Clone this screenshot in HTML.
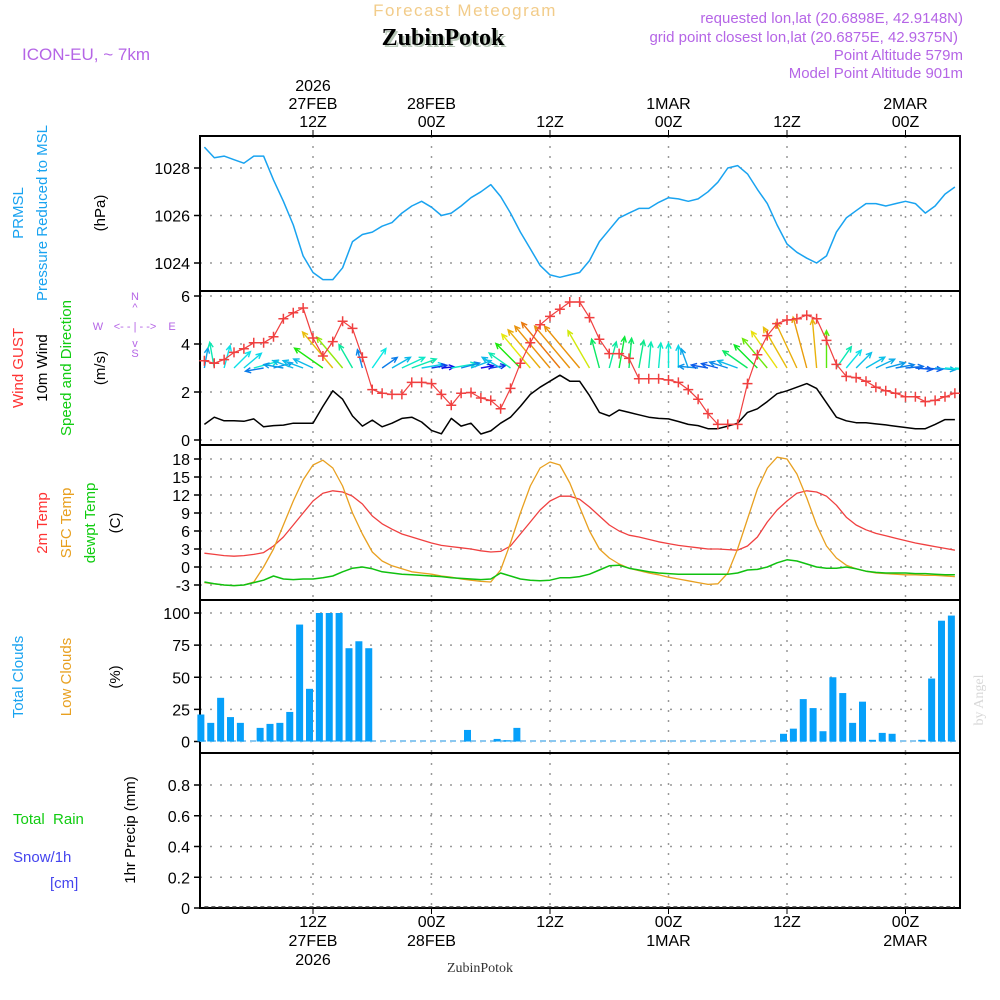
<!DOCTYPE html>
<html><head><meta charset="utf-8"><style>
html,body{margin:0;padding:0;background:#fff}
svg{display:block;font-family:"Liberation Sans",sans-serif}
</style></head><body>
<svg id="chart" width="1000" height="1000" viewBox="0 0 1000 1000">
<defs><clipPath id="windclip"><rect x="201" y="292" width="758" height="152"/></clipPath></defs>
<text x="465" y="16" font-size="17" fill="#f2cc8a" text-anchor="middle" letter-spacing="1.5">Forecast Meteogram</text>
<text x="445" y="47" font-size="24" font-weight="bold" font-family="Liberation Serif,serif" fill="#b8c8b8" text-anchor="middle">ZubinPotok</text>
<text x="443" y="45" font-size="24" font-weight="bold" font-family="Liberation Serif,serif" fill="#000" text-anchor="middle">ZubinPotok</text>
<g fill="#b565e6" font-size="15" text-anchor="end">
<text x="963" y="23">requested lon,lat (20.6898E, 42.9148N)</text>
<text x="958" y="42">grid point closest lon,lat (20.6875E, 42.9375N)</text>
<text x="963" y="60">Point Altitude 579m</text>
<text x="963" y="78">Model Point Altitude 901m</text>
</g>
<text x="22" y="60" font-size="17" fill="#b565e6">ICON-EU, ~ 7km</text>
<g id="axes"></g>
<g font-size="15">
<text transform="translate(23,213) rotate(-90)" text-anchor="middle" fill="#19a3f0">PRMSL</text>
<text transform="translate(47,213) rotate(-90)" text-anchor="middle" fill="#19a3f0">Pressure Reduced to MSL</text>
<text transform="translate(105,213) rotate(-90)" text-anchor="middle" fill="#000">(hPa)</text>
<text transform="translate(23,368) rotate(-90)" text-anchor="middle" fill="#f33">Wind GUST</text>
<text transform="translate(47,368) rotate(-90)" text-anchor="middle" fill="#000">10m Wind</text>
<text transform="translate(71,368) rotate(-90)" text-anchor="middle" fill="#1c1">Speed and Direction</text>
<text transform="translate(105,368) rotate(-90)" text-anchor="middle" fill="#000">(m/s)</text>
<g fill="#b565e6" font-size="11" text-anchor="middle">
<text x="135" y="300">N</text><text x="135" y="311">^</text><text x="135" y="330">&lt;- - | - -&gt;</text><text x="98" y="330">W</text><text x="172" y="330">E</text><text x="135" y="347">v</text><text x="135" y="357">S</text>
</g>
<text transform="translate(47,523) rotate(-90)" text-anchor="middle" fill="#f33">2m Temp</text>
<text transform="translate(71,523) rotate(-90)" text-anchor="middle" fill="#e8a020">SFC Temp</text>
<text transform="translate(95,523) rotate(-90)" text-anchor="middle" fill="#1c1">dewpt Temp</text>
<text transform="translate(120,523) rotate(-90)" text-anchor="middle" fill="#000">(C)</text>
<text transform="translate(23,677) rotate(-90)" text-anchor="middle" fill="#19a3f0">Total Clouds</text>
<text transform="translate(71,677) rotate(-90)" text-anchor="middle" fill="#e8a020">Low Clouds</text>
<text transform="translate(120,677) rotate(-90)" text-anchor="middle" fill="#000">(%)</text>
<text x="13" y="824" fill="#1c1" xml:space="preserve">Total  Rain</text>
<text x="13" y="862" fill="#4444ee">Snow/1h</text>
<text x="50" y="888" fill="#4444ee">[cm]</text>
<text transform="translate(135,830) rotate(-90)" text-anchor="middle" fill="#000">1hr Precip (mm)</text>
</g>
<text transform="translate(983,700) rotate(-90)" font-family="Liberation Serif,serif" font-size="14" fill="#d8d8d8" text-anchor="middle">by Angel</text>
<text x="480" y="972" font-family="Liberation Serif,serif" font-size="14" fill="#333" text-anchor="middle">ZubinPotok</text>
<g id="marks"></g>
</svg>
<script>
const hours = Array.from({length:77},(_,i)=>i+1);
const pressure = [1028.88,1028.43,1028.5,1028.35,1028.2,1028.5,1028.5,1027.5,1026.6,1025.6,
1024.3,1023.6,1023.3,1023.3,1023.8,1024.9,1025.2,1025.3,1025.55,1025.7,
1026.1,1026.4,1026.6,1026.35,1026.0,1026.1,1026.4,1026.75,1027.0,1027.3,
1026.8,1026.1,1025.3,1024.6,1023.9,1023.5,1023.4,1023.5,1023.6,1024.1,
1024.9,1025.4,1025.9,1026.1,1026.3,1026.3,1026.55,1026.75,1026.7,1026.6,
1026.7,1027.0,1027.4,1028.0,1028.1,1027.75,1027.1,1026.5,1025.6,1024.8,
1024.45,1024.2,1024.0,1024.3,1025.3,1025.9,1026.2,1026.5,1026.5,1026.4,
1026.5,1026.6,1026.5,1026.1,1026.4,1026.9,1027.2];
const gust = [3.3,3.2,3.35,3.65,3.8,4.05,4.05,4.3,5.05,5.3,
5.5,4.25,3.5,4.1,4.95,4.65,3.45,2.1,1.95,1.9,
1.9,2.4,2.4,2.35,1.9,1.45,1.95,1.98,1.75,1.65,
1.3,2.15,3.2,4.05,4.8,5.15,5.45,5.75,5.75,5.1,
4.2,3.6,3.6,3.4,2.55,2.55,2.55,2.5,2.4,2.1,
1.7,1.1,0.65,0.65,0.65,2.35,3.55,4.35,4.85,5.0,
5.05,5.2,5.05,4.15,3.15,2.65,2.6,2.45,2.2,2.05,
1.95,1.8,1.8,1.6,1.65,1.8,1.95];
const wind = [0.65,0.95,0.8,0.8,0.78,0.88,0.55,0.6,0.62,0.7,
0.7,0.7,1.4,2.05,1.7,1.0,0.58,0.83,0.55,0.7,
0.9,0.95,0.75,0.4,0.26,0.9,0.58,0.7,0.25,0.38,
0.7,0.95,1.4,1.9,2.2,2.45,2.7,2.45,2.45,1.85,
1.15,1.0,1.25,1.15,1.05,0.95,0.9,0.88,0.77,0.65,
0.6,0.47,0.47,0.58,0.7,1.15,1.3,1.6,1.93,2.05,
2.2,2.35,2.15,1.55,0.95,0.8,0.72,0.72,0.67,0.63,
0.57,0.52,0.47,0.47,0.65,0.85,0.85];
const windDir = [10,350,15,45,50,75,260,75,280,290,
290,295,305,320,320,330,345,35,55,60,
65,70,80,80,85,80,75,70,80,80,
300,305,315,320,320,320,320,320,320,330,
345,15,10,5,10,5,5,0,0,340,
275,280,285,288,290,305,315,320,325,330,
335,345,355,0,35,40,45,60,65,75,
80,85,95,95,95,95,95];
const temp2m = [2.3,2.1,1.9,1.8,1.9,2.1,2.4,3.5,5.0,7.0,
9.0,11.0,12.3,12.7,12.5,11.8,10.5,8.5,7.2,6.3,
5.5,5.0,4.5,4.0,3.6,3.4,3.2,3.0,2.7,2.5,
2.6,3.5,5.5,7.5,9.5,11.0,11.8,11.8,11.3,10.0,
8.5,7.0,6.0,5.3,5.0,4.6,4.2,3.9,3.6,3.4,
3.2,3.0,3.0,2.9,2.8,3.5,5.0,7.5,9.5,11.0,
12.3,12.7,12.5,11.8,10.3,8.3,7.0,6.2,5.6,5.2,
4.8,4.4,4.0,3.7,3.4,3.1,2.8];
const tempSfc = [-2.6,-2.8,-3.0,-3.1,-3.0,-2.5,0.0,3.0,7.0,11.0,
14.5,17.0,17.8,16.5,13.5,9.0,5.5,2.5,1.0,0.2,
-0.3,-0.8,-1.0,-1.2,-1.5,-1.7,-2.0,-2.2,-2.4,-2.5,
-0.5,4.0,9.0,13.5,16.5,17.5,17.0,14.0,10.0,6.0,
3.0,1.5,0.5,-0.2,-0.6,-1.0,-1.3,-1.7,-2.0,-2.3,
-2.6,-2.9,-2.8,-1.0,3.0,8.0,13.0,16.5,18.3,18.0,
15.5,11.5,7.0,3.5,1.5,0.3,-0.3,-0.7,-1.0,-1.1,
-1.2,-1.3,-1.3,-1.4,-1.4,-1.5,-1.6];
const dewpt = [-2.5,-2.8,-3.0,-3.1,-3.0,-2.6,-2.2,-1.5,-2.0,-2.1,
-2.0,-2.0,-1.8,-1.5,-0.8,-0.2,0.0,-0.3,-0.8,-1.0,
-1.2,-1.3,-1.4,-1.5,-1.6,-1.8,-1.9,-2.0,-2.1,-2.0,
-1.0,-1.5,-2.0,-2.2,-2.3,-2.2,-1.8,-1.8,-1.6,-1.2,
-0.5,0.2,0.3,-0.2,-0.5,-0.8,-1.0,-1.1,-1.2,-1.2,
-1.2,-1.2,-1.2,-1.2,-1.0,-0.5,-0.4,0.0,0.7,1.2,
1.0,0.5,0.0,-0.2,-0.2,0.0,-0.3,-0.7,-0.9,-1.0,
-1.0,-1.0,-1.1,-1.1,-1.2,-1.3,-1.3];
const clouds = [21,14.5,34,19,14.5,0,10.6,13.7,14.5,23,
91,41,100,100,100,72.6,78,72.6,0,0,
0,0,0,0,0,0,0,9,0,0,
2,1,10.6,0,0,0,0,0,0,0,
0,0,0,0,0,0,0,0,0,0,
0,0,0,0,0,0,0,0,0,6,
10,33,26,8,50,37.7,14.5,31,1.3,6.7,
6,0,0,1.3,49,94,98];
const precip = new Array(77).fill(0);
const pressTicks = [1024,1026,1028];
const windTicks = [0,2,4,6];
const tempTicks = [-3,0,3,6,9,12,15,18];
const cloudTicks = [0,25,50,75,100];
const precipTicks = [0,0.2,0.4,0.6,0.8];
const timeTickHours = [12,24,36,48,60,72];
const timeTopLabels = [["2026","27FEB","12Z"],["","28FEB","00Z"],["","","12Z"],["","1MAR","00Z"],["","","12Z"],["","2MAR","00Z"]];
const timeBotLabels = [["12Z","27FEB","2026"],["00Z","28FEB",""],["12Z","",""],["00Z","1MAR",""],["12Z","",""],["00Z","2MAR",""]];

const NS="http://www.w3.org/2000/svg";
const L=200,R=960;
const x=h=>194.5+h*9.875;
const lin=(v0,p0,v1,p1)=>v=>p0+(v-v0)*(p1-p0)/(v1-v0);
const yP=lin(1024,263,1028,168), yW=lin(0,440,6,296), yT=lin(0,567,18,459), yC=lin(0,741.5,100,613), yR=lin(0,908,0.8,785);
const panels=[[136,291,pressTicks,yP,v=>String(v)],[291,445,windTicks,yW,v=>String(v)],[445,600,tempTicks,yT,v=>String(v)],[600,753,cloudTicks,yC,v=>String(v)],[753,908,precipTicks,yR,v=>v===0?"0":v.toFixed(1)]];
const axes=document.getElementById('axes'), marks=document.getElementById('marks');
function mk(tag,attrs,parent,text){const e=document.createElementNS(NS,tag);for(const k in attrs)e.setAttribute(k,attrs[k]);if(text!==undefined)e.textContent=text;parent.appendChild(e);return e;}
panels.forEach((p,i)=>{
  const g=mk('g',{},axes);
  
  
  timeTickHours.forEach(h=>{mk('line',{x1:x(h),x2:x(h),y1:p[0],y2:p[1],stroke:'#999','stroke-width':1.5,'stroke-dasharray':'2,8'},g);});
  p[2].forEach(v=>{const y=p[3](v);
    mk('line',{x1:L,x2:R,y1:y,y2:y,stroke:'#999','stroke-width':1.5,'stroke-dasharray':'2,8'},g);
    mk('line',{x1:L-6,x2:L,y1:y,y2:y,stroke:'#000','stroke-width':1.5},g);
    const t=mk('text',{x:L-10,y:y+6,'font-size':16,'text-anchor':'end',fill:'#000'},g,p[4](v));
    
    
  });
  mk('rect',{x:L,y:p[0],width:R-L,height:p[1]-p[0],fill:'none',stroke:'#000','stroke-width':2},g);
});
const tg=mk('g',{'font-size':16,'text-anchor':'middle',fill:'#000'},axes);


timeTickHours.forEach((h,i)=>{
  const X=x(h);
  mk('line',{x1:X,x2:X,y1:130,y2:136,stroke:'#000'},tg);
  mk('line',{x1:X,x2:X,y1:908,y2:914,stroke:'#000'},tg);
  timeTopLabels[i].forEach((s,j)=>{if(s)mk('text',{x:X,y:91+j*18},tg,s);});
  timeBotLabels[i].forEach((s,j)=>{if(s)mk('text',{x:X,y:927+j*19},tg,s);});
});
function path(vals,yf,color,w,name){
  const d=vals.map((v,i)=>(i?'L':'M')+x(hours[i]).toFixed(1)+','+yf(v).toFixed(1)).join('');
  const p=mk('path',{d:d,fill:'none',stroke:color,'stroke-width':w,'stroke-linejoin':'round'},marks);
  
  
  return p;
}
path(pressure,yP,'#19a3f0',1.5,'pressure-line');
const cg=mk('g',{},marks);


mk('line',{x1:L,x2:R,y1:741,y2:741,stroke:'#8cc8f0','stroke-width':2,'stroke-dasharray':'6,4'},cg);
clouds.forEach((v,i)=>{if(v<=0)return;const X=x(hours[i])-3.5;const b=mk('rect',{x:X-3.5,y:yC(v),width:7,height:yC(0)-yC(v),fill:'#06a0fa'},cg);
  
  });
const pl=mk('path',{d:precip.map((v,i)=>(i?'L':'M')+x(hours[i])+','+(yR(v)-1)).join(''),fill:'none',stroke:'#333','stroke-width':1.5,'stroke-dasharray':'4,3'},marks);


path(temp2m,yT,'#f04040',1.3,'temp-2m-line');
path(tempSfc,yT,'#e8a020',1.3,'temp-sfc-line');
path(dewpt,yT,'#10c010',1.5,'dewpoint-line');
path(wind,yW,'#000',1.5,'wind-speed-line');
const ag=mk('g',{'clip-path':'url(#windclip)'},marks);


windDir.forEach((d,i)=>{
  const s=wind[i];const len=8+19*s;const r=d*Math.PI/180;
  const x0=x(hours[i]),y0=368,x1=x0+len*Math.sin(r),y1=y0-len*Math.cos(r);
  let hue=s<=2?270-110*s:50-(s-2)*30;const col='hsl('+hue+',90%,48%)';
  const a1=r+Math.PI-0.45,a2=r+Math.PI+0.45,hl=6;
  const p=mk('path',{d:`M${x0},${y0}L${x1},${y1}M${x1+hl*Math.sin(a1)},${y1-hl*Math.cos(a1)}L${x1},${y1}L${x1+hl*Math.sin(a2)},${y1-hl*Math.cos(a2)}`,fill:'none',stroke:col,'stroke-width':1.4},ag);
  
  
});
path(gust,yW,'#f04040',1.2,'wind-gust-line');
const gg=mk('g',{},marks);


gust.forEach((v,i)=>{const X=x(hours[i]),Y=yW(v);
  const m=mk('path',{d:`M${X-5},${Y}H${X+5}M${X},${Y-5}V${Y+5}`,stroke:'#f04040','stroke-width':1.5},gg);
  
  });
</script>
</body></html>
